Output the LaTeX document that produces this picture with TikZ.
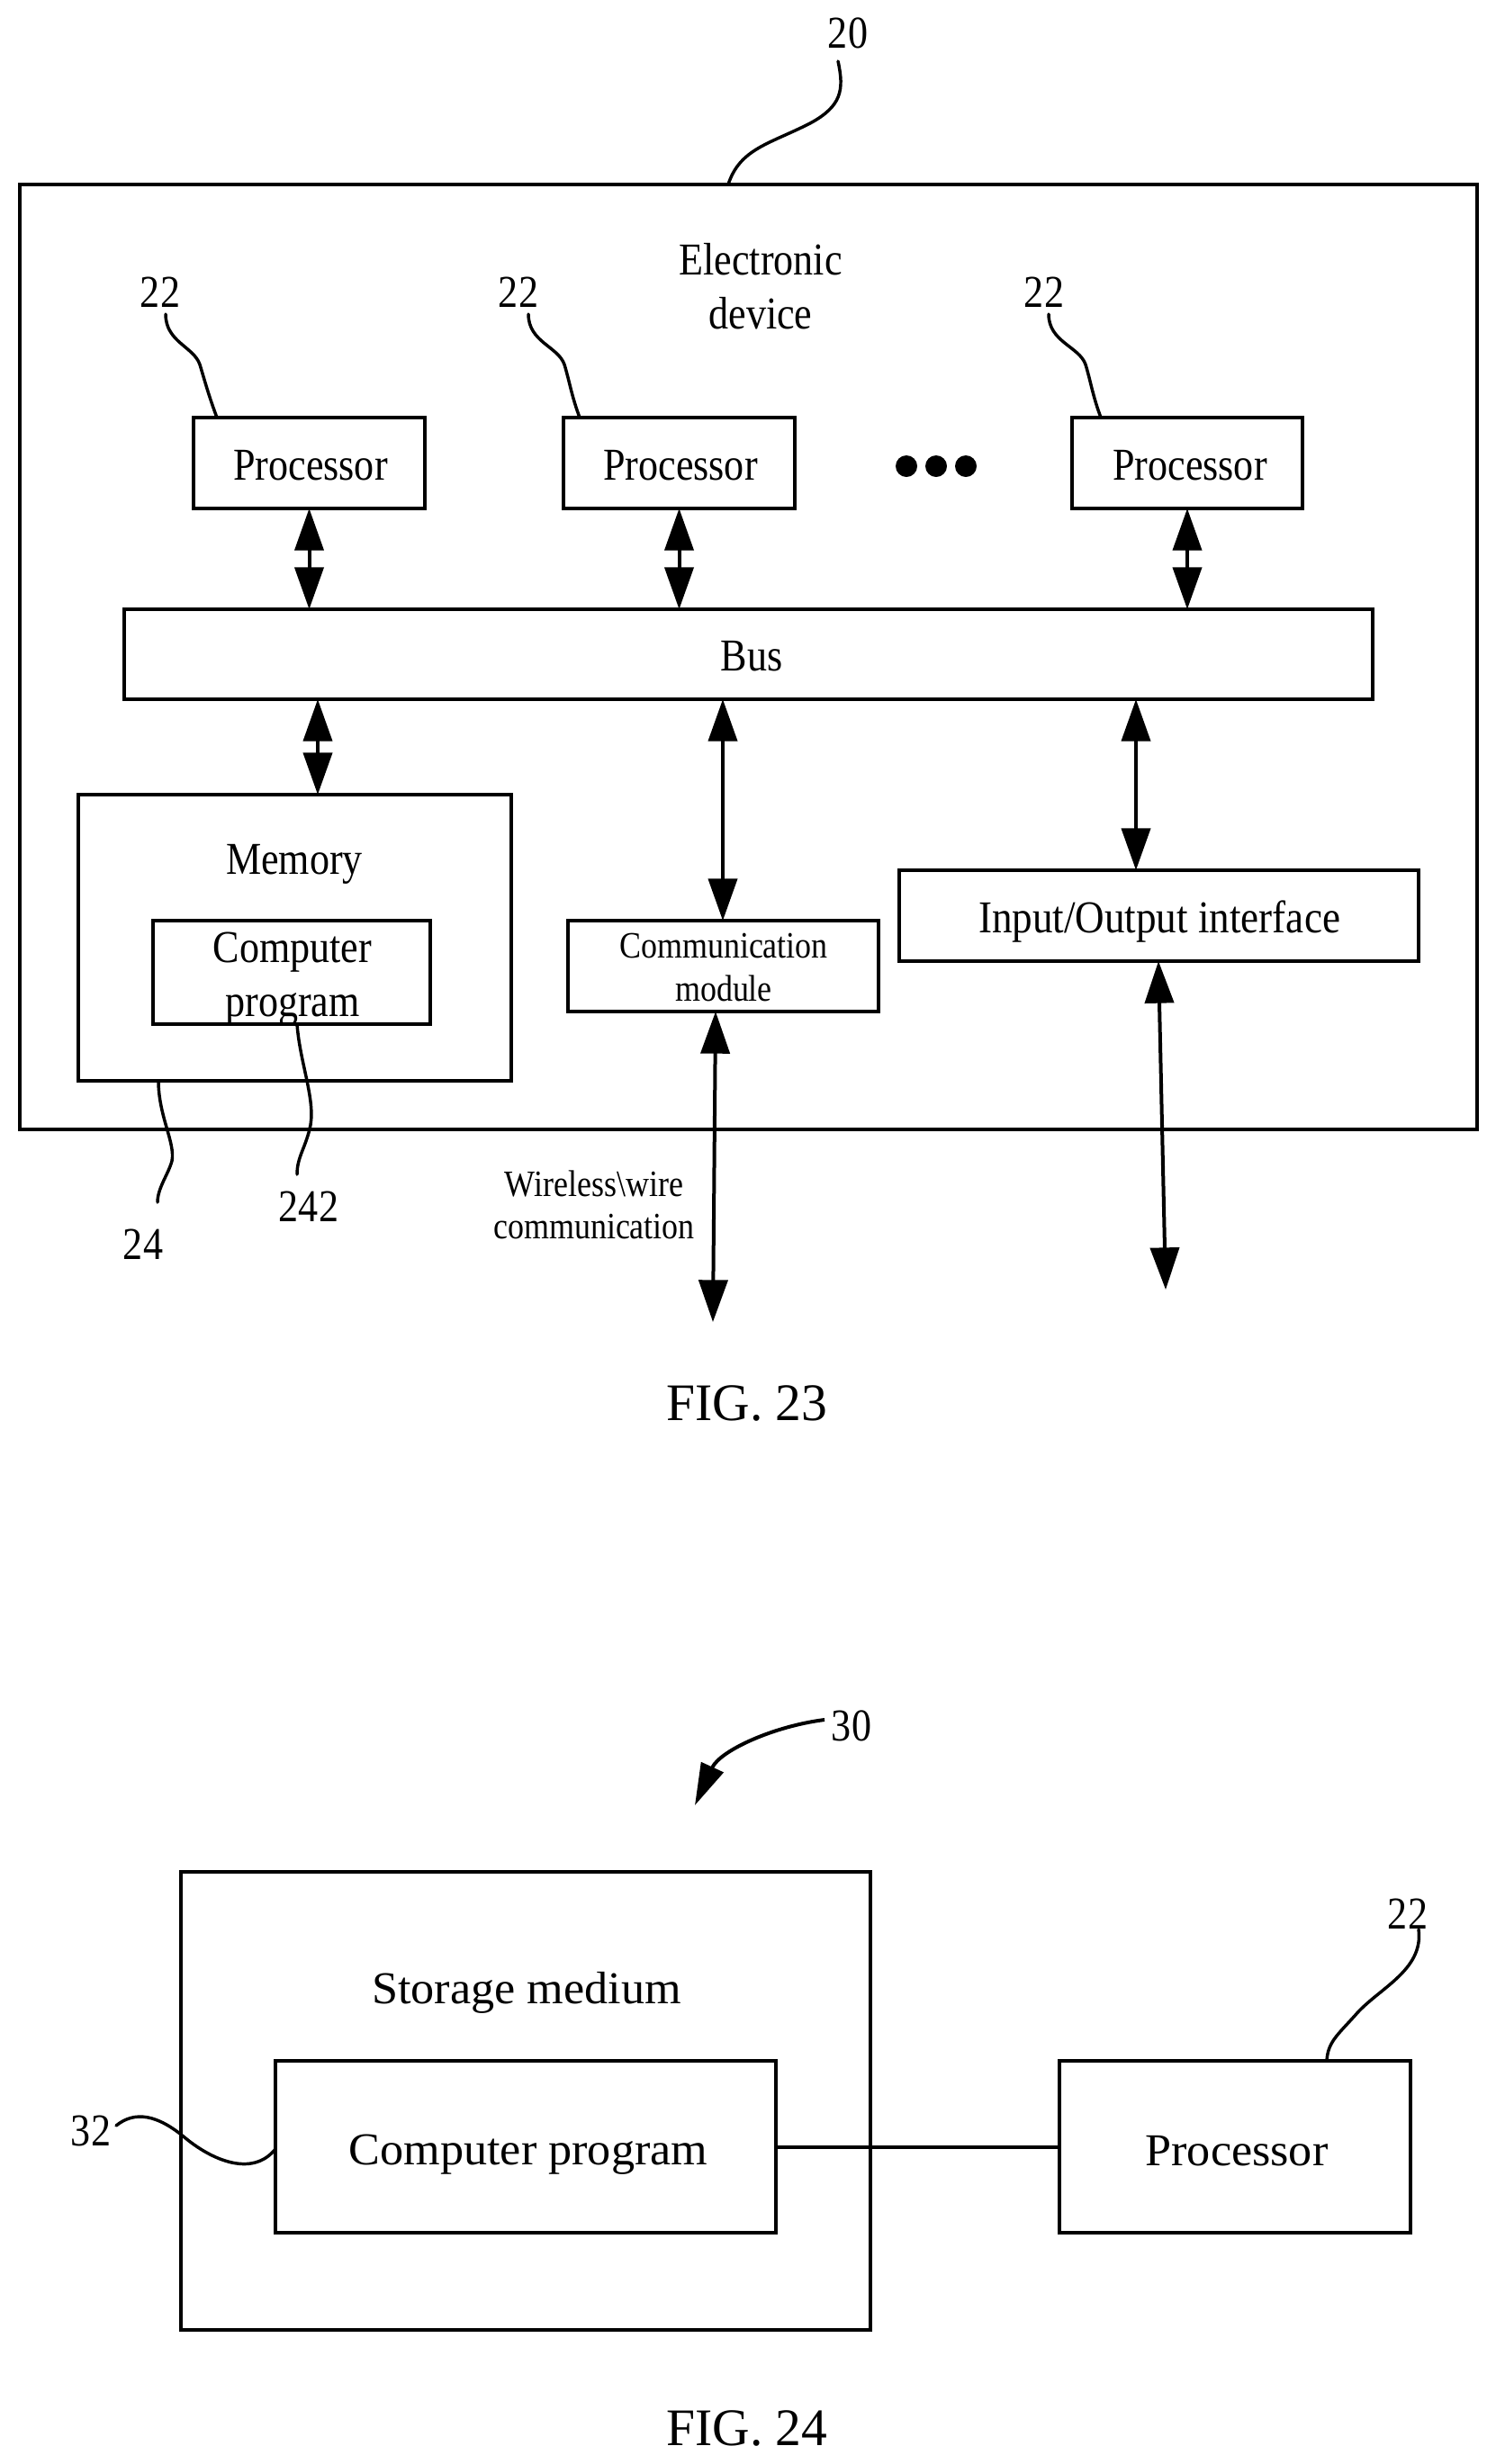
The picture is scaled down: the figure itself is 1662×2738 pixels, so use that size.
\documentclass[tikz,border=0pt]{standalone}
\usepackage{fontspec}
\setmainfont[FakeStretch=0.87]{Liberation Serif}
\newfontfamily\figfont[FakeStretch=0.98]{Liberation Serif}
\newfontfamily\iofont[FakeStretch=0.89]{Liberation Serif}
\newfontfamily\widefont[FakeStretch=1.03]{Liberation Serif}
\usetikzlibrary{arrows.meta,fit,calc}
\newcommand{\mainsize}{\fontsize{38}{45}\selectfont}
\newcommand{\smallsize}{\fontsize{31}{35.5}\selectfont}
\newcommand{\figsize}{\figfont\fontsize{44}{50}\selectfont}
\newcommand{\widesize}{\widefont\fontsize{38}{45}\selectfont}
\tikzset{
  box/.style={draw=black,line width=2.8pt,fill=none,inner sep=0pt,outer sep=0pt},
  txt/.style={inner sep=0pt,align=center,font=\mainsize},
  smalltxt/.style={inner sep=0pt,align=center,font=\smallsize},
  widetxt/.style={inner sep=0pt,align=center,font=\widesize},
  figtxt/.style={inner sep=0pt,font=\figsize},
  link/.style={line width=3pt,{Triangle[length=35pt,width=24pt]}-{Triangle[length=35pt,width=24pt]}},
  lead/.style={line width=2.6pt,line cap=round},
}
\begin{document}
\begin{tikzpicture}[x=0.75pt,y=-0.75pt]
\useasboundingbox (0,0) rectangle (1662,2738);
\fill[white] (0,0) rectangle (1662,2738);
% FIG 23
\node[box,fit={(22,205)(1641,1255)}] (outer) {};
\node[txt] (title) at (845,318) {Electronic\\device};
\node[box,fit={(215,464)(472,565)}] (p1) {};
\node[box,fit={(626,464)(883,565)}] (p2) {};
\node[box,fit={(1191,464)(1447,565)}] (p3) {};
\node[txt] (p1t) at (345,517) {Processor};
\node[txt] (p2t) at (756,517) {Processor};
\node[txt] (p3t) at (1322,517) {Processor};
\node[box,fit={(138,677)(1525,777)}] (bus) {};
\node[txt] (bust) at (835,729) {Bus};
\node[box,fit={(87,883)(568,1201)}] (mem) {};
\node[txt] (memt) at (327,960) {Memory};
\node[box,fit={(170,1023)(478,1138)}] (cp) {};
\node[txt] (cpt) at (325,1088) {Computer\\program};
\node[box,fit={(631,1023)(976,1124)}] (comm) {};
\node[smalltxt] (commt) at (804,1075) {Communication\\module};
\node[box,fit={(999,967)(1576,1068)}] (io) {};
\node[txt,font=\iofont\fontsize{38}{45}\selectfont] (iot) at (1288,1024) {Input/Output interface};
\node[smalltxt] (wl) at (660,1339) {Wireless\textbackslash wire\\communication};
\fill[black] (1007,518) circle (12) (1040,518) circle (12) (1073,518) circle (12);
\node[txt] (n20) at (942,37) {20};
\node[txt] (n22a) at (178,325) {22};
\node[txt] (n22b) at (576,325) {22};
\node[txt] (n22c) at (1160,325) {22};
\node[txt] (n242) at (343,1341) {242};
\node[txt] (n24) at (159,1383) {24};
\node[figtxt] (f23) at (830,1559) {FIG. 23};
\coordinate (free1) at (792,1469);
\coordinate (free2) at (1295,1433);
\draw[link] (p1.south) -- (p1.south |- bus.north);
\draw[link] (p2.south) -- (p2.south |- bus.north);
\draw[link] (p3.south) -- (p3.south |- bus.north);
\draw[link] (353,0 |- bus.south) -- (353,0 |- mem.north);
\draw[link] (803,0 |- bus.south) -- (803,0 |- comm.north);
\draw[link] (1262,0 |- bus.south) -- (1262,0 |- io.north);
\draw[link] (795,0 |- comm.south) -- (free1);
\draw[link] (1287,0 |- io.south) -- (free2);
\draw[lead] (931,68) .. controls (938,100) and (935,118) .. (900,137) .. controls (855,160) and (822,165) .. (809,0 |- outer.north);
\draw[lead] (184,349) .. controls (184,380) and (215,385) .. (222,405) .. controls (228,425) and (232,440) .. (241,0 |- p1.north);
\draw[lead] (587,349) .. controls (587,380) and (620,385) .. (627,405) .. controls (633,425) and (635,440) .. (644,0 |- p2.north);
\draw[lead] (1165,349) .. controls (1165,380) and (1199,385) .. (1206,405) .. controls (1212,425) and (1214,440) .. (1223,0 |- p3.north);
\draw[lead] (176,0 |- mem.south) .. controls (176,1240) and (195,1270) .. (191,1290) .. controls (187,1305) and (175,1320) .. (175,1336);
\draw[lead] (330,0 |- cp.south) .. controls (333,1180) and (350,1220) .. (345,1250) .. controls (340,1275) and (330,1285) .. (330,1305);
% FIG 24
\node[box,fit={(201,2080)(967,2589)}] (st) {};
\node[widetxt] (stt) at (585,2214) {Storage medium};
\node[box,fit={(306,2290)(862,2481)}] (cp2) {};
\node[widetxt] (cp2t) at (587,2394) {Computer program};
\node[box,fit={(1177,2290)(1567,2481)}] (pr) {};
\node[widetxt] (prt) at (1374,2390) {Processor};
\node[txt] (n30) at (946,1918) {30};
\node[txt] (n22d) at (1564,2127) {22};
\node[txt] (n32) at (101,2368) {32};
\node[figtxt] (f24) at (830,2698) {FIG. 24};
\coordinate (a30) at (772,2006);
\draw[line width=3pt] (cp2) -- (pr);
\draw[line width=3pt,-{Triangle[length=35pt,width=20pt]}] (916,1911) .. controls (860,1918) and (800,1945) .. (a30);
\draw[lead] (1576,2144) .. controls (1582,2190) and (1530,2210) .. (1505,2240) .. controls (1485,2262) and (1475,2270) .. (1474,0 |- pr.north);
\draw[lead] (129,2362) .. controls (150,2345) and (175,2350) .. (205,2375) .. controls (235,2400) and (280,2420) .. (cp2.west |- 0,2388);
\end{tikzpicture}
\end{document}
